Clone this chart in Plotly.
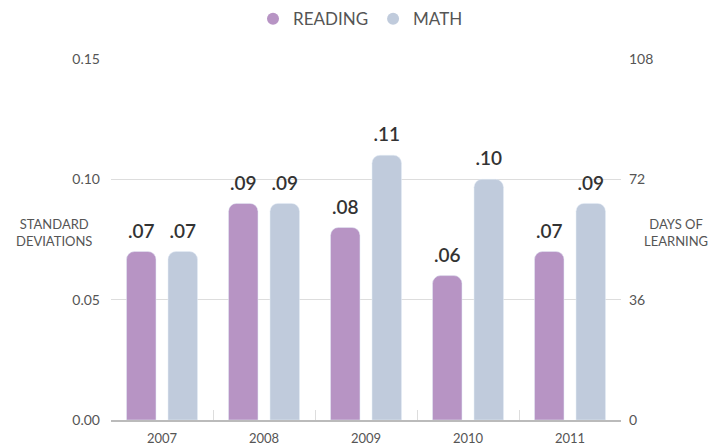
import plotly.graph_objects as go

years = ["2007", "2008", "2009", "2010", "2011"]
reading = [0.07, 0.09, 0.08, 0.06, 0.07]
math_vals = [0.07, 0.09, 0.11, 0.10, 0.09]
left_ticks = [0.00, 0.05, 0.10, 0.15]
left_labels = ["0.00", "0.05", "0.10", "0.15"]
right_ticks = [0, 36, 72, 108]

READ_C = "#b794c4"
MATH_C = "#c0cbdc"
FONT = "Lato, 'Open Sans', sans-serif"
BARGAP = 0.186

def lab(v):
    return f"{v:.2f}".lstrip("0")

fig = go.Figure()
for nm, vals, c in [("READING", reading, READ_C), ("MATH", math_vals, MATH_C)]:
    fig.add_trace(go.Bar(
        x=years, y=vals, name=nm, marker_color=c, offsetgroup=nm,
        showlegend=False, hoverinfo="x+y",
    ))
for nm, vals in [("READING", reading), ("MATH", math_vals)]:
    fig.add_trace(go.Scatter(
        x=years, y=vals, mode="markers+text", offsetgroup=nm,
        text=[lab(v) for v in vals], textposition="top center",
        marker=dict(size=13, opacity=0), cliponaxis=False,
        textfont=dict(size=19, color="#333333", family=FONT, weight=600),
        showlegend=False, hoverinfo="skip",
    ))
# legend entries with circle markers
for nm, c in [("READING", READ_C), ("MATH", MATH_C)]:
    fig.add_trace(go.Scatter(x=[None], y=[None], mode="markers", name=nm,
                             marker=dict(symbol="circle", size=17, color=c)))
# right axis carrier
fig.add_trace(go.Scatter(x=years, y=[None]*len(years), yaxis="y2",
                         showlegend=False, hoverinfo="skip"))

fig.update_layout(
    width=721, height=446,
    margin=dict(l=111, r=100, t=59, b=26, autoexpand=False),
    paper_bgcolor="white", plot_bgcolor="white",
    font=dict(family=FONT, color="#555555"),
    barmode="group", bargap=BARGAP, bargroupgap=0.29,
    scattermode="group", scattergap=BARGAP,
    barcornerradius=8,
    legend=dict(orientation="h", x=0.5, xanchor="center", y=0.957, yanchor="middle",
                yref="container", xref="container",
                font=dict(size=17, color="#555555", family=FONT),
                itemsizing="constant", traceorder="normal"),
    xaxis=dict(type="category", showline=True, linecolor="#bbbbbb", linewidth=1.5,
               ticks="inside", tickson="boundaries", ticklen=10, tickcolor="#dddddd",
               tickfont=dict(size=13, color="#555555"), showgrid=False,
               ticklabelstandoff=6, automargin=False),
    yaxis=dict(range=[0, 0.15], tickvals=left_ticks, ticktext=left_labels,
               showgrid=True, gridcolor="#dddddd", gridwidth=1, zeroline=False,
               tickfont=dict(size=14, color="#555555"), ticklabelstandoff=10,
               showline=False, automargin=False),
    yaxis2=dict(range=[0, 108], tickvals=right_ticks, overlaying="y", side="right",
                showgrid=False, zeroline=False, showline=False,
                tickfont=dict(size=14, color="#555555"), ticklabelstandoff=7,
                automargin=False),
    annotations=[
        dict(text="STANDARD<br>DEVIATIONS", xref="paper", yref="paper", x=-0.112, y=0.52,
             xanchor="center", yanchor="middle", showarrow=False,
             font=dict(size=13, color="#555555", family=FONT), align="center"),
        dict(text="DAYS OF<br>LEARNING", xref="paper", yref="paper", x=1.108, y=0.52,
             xanchor="center", yanchor="middle", showarrow=False,
             font=dict(size=13, color="#555555", family=FONT), align="center"),
    ],
)
fig.write_html("out.html", config={"displayModeBar": False},
               post_script="document.body.style.margin='0';")
